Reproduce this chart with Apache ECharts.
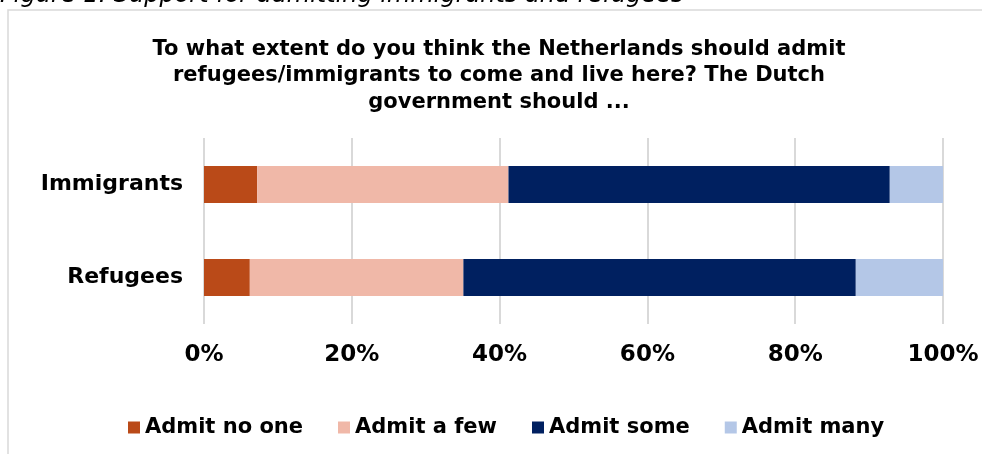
<!DOCTYPE html>
<html>
<head>
<meta charset="utf-8">
<script src="https://cdn.jsdelivr.net/npm/echarts@6/dist/echarts.min.js"></script>
<style>
  html, body { margin: 0; padding: 0; background: #fff; }
  #chart { width: 982px; height: 454px; }
</style>
</head>
<body>
<div id="chart"></div>
<script>
  // 数据
  var categories = ['Immigrants', 'Refugees'];
  var seriesNames = ['Admit no one', 'Admit a few', 'Admit some', 'Admit many'];
  var admitNoOne = [7.2, 6.2];
  var admitAFew = [34.0, 28.9];
  var admitSome = [51.6, 53.1];
  var admitMany = [7.2, 11.8];
  var tickLabels = ['0%', '20%', '40%', '60%', '80%', '100%'];

  var colors = ['#BA4A18', '#F0B8A8', '#002060', '#B4C7E7'];
  var values = [admitNoOne, admitAFew, admitSome, admitMany];
  var font = '"DejaVu Sans", Verdana, sans-serif';

  var myChart = echarts.init(document.getElementById('chart'));

  var series = seriesNames.map(function (name, i) {
    return {
      name: name,
      type: 'bar',
      stack: 'total',
      barWidth: '40%',
      itemStyle: { color: colors[i] },
      emphasis: { disabled: true },
      data: values[i]
    };
  });

  myChart.setOption({
    animation: false,
    color: colors,
    title: {
      text: 'To what extent do you think the Netherlands should admit\nrefugees/immigrants to come and live here? The Dutch\ngovernment should ...',
      left: 494,
      textAlign: 'center',
      top: 31,
      textStyle: {
        fontFamily: font,
        fontSize: 21,
        fontWeight: 'bold',
        color: '#000',
        lineHeight: 26.5
      }
    },
    graphic: [
      {
        type: 'rect',
        shape: { x: 8, y: 10, width: 1000, height: 500 },
        style: { fill: 'none', stroke: '#d9d9d9', lineWidth: 1.5 },
        silent: true,
        z: -1
      },
      {
        type: 'text',
        left: 0,
        top: -16,
        style: {
          text: 'Figure 1. Support for admitting immigrants and refugees',
          font: 'italic 24px ' + font,
          fill: '#000'
        }
      }
    ],
    legend: {
      data: seriesNames,
      left: 123,
      top: 412,
      itemWidth: 12,
      itemHeight: 12,
      itemGap: 35,
      icon: 'rect',
      textStyle: {
        fontFamily: font,
        fontSize: 21,
        fontWeight: 'bold',
        color: '#000'
      }
    },
    grid: {
      left: 204,
      right: 39,
      top: 138,
      bottom: 130,
      containLabel: false
    },
    xAxis: {
      type: 'value',
      min: 0,
      max: 100,
      interval: 20,
      axisLine: { show: false },
      axisTick: { show: false },
      splitLine: { lineStyle: { color: '#d9d9d9', width: 2 } },
      axisLabel: {
        margin: 20,
        fontFamily: font,
        fontSize: 23,
        fontWeight: 'bold',
        color: '#000',
        formatter: function (v) { return tickLabels[Math.round(v / 20)]; }
      }
    },
    yAxis: {
      type: 'category',
      inverse: true,
      data: categories,
      axisLine: { show: false },
      axisTick: { show: false },
      axisLabel: {
        margin: 21,
        fontFamily: font,
        fontSize: 22,
        fontWeight: 'bold',
        color: '#000'
      }
    },
    series: series
  });
</script>
</body>
</html>
